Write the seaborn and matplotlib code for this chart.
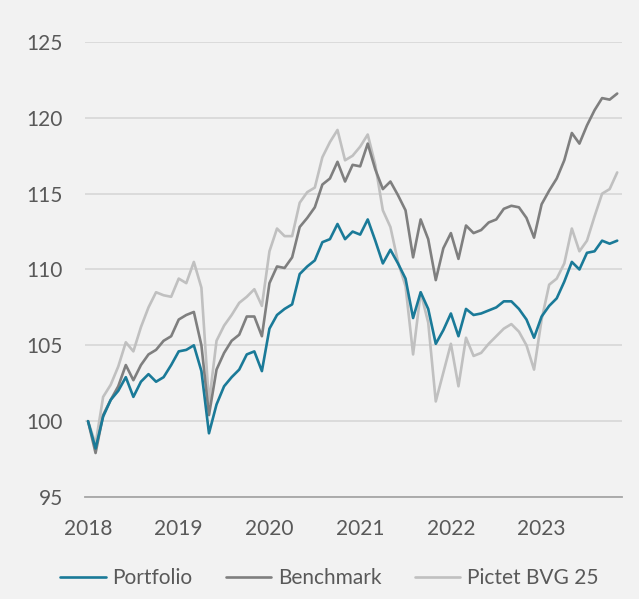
import numpy as np
import pandas as pd
import matplotlib
matplotlib.use("Agg")
import matplotlib.pyplot as plt
import seaborn as sns

# monthly index values, Jan 2018 .. Nov 2023
portfolio = [100.0, 98.2, 100.3, 101.4, 102.0, 102.9, 101.6, 102.6, 103.1, 102.6, 102.9, 103.7,
             104.6, 104.7, 105.0, 103.3, 99.2, 101.1, 102.3, 102.9, 103.4, 104.4, 104.6, 103.3,
             106.1, 107.0, 107.4, 107.7, 109.7, 110.2, 110.6, 111.8, 112.0, 113.0, 112.0, 112.5,
             112.3, 113.3, 111.9, 110.4, 111.3, 110.4, 109.4, 106.8, 108.5, 107.4, 105.1, 106.0,
             107.1, 105.6, 107.4, 107.0, 107.1, 107.3, 107.5, 107.9, 107.9, 107.4, 106.7, 105.5,
             106.9, 107.6, 108.1, 109.2, 110.5, 110.0, 111.1, 111.2, 111.9, 111.7, 111.9]
benchmark = [100.0, 97.9, 100.4, 101.4, 102.3, 103.7, 102.7, 103.7, 104.4, 104.7, 105.3, 105.6,
             106.7, 107.0, 107.2, 105.0, 100.4, 103.4, 104.5, 105.3, 105.7, 106.9, 106.9, 105.6,
             109.1, 110.2, 110.1, 110.8, 112.8, 113.4, 114.1, 115.6, 116.0, 117.1, 115.8, 116.9,
             116.8, 118.3, 116.6, 115.3, 115.8, 114.9, 113.9, 110.8, 113.3, 112.0, 109.3, 111.4,
             112.4, 110.7, 112.9, 112.4, 112.6, 113.1, 113.3, 114.0, 114.2, 114.1, 113.4, 112.1,
             114.3, 115.2, 116.0, 117.2, 119.0, 118.3, 119.5, 120.5, 121.3, 121.2, 121.6]
pictet = [100.0, 98.5, 101.6, 102.4, 103.6, 105.2, 104.6, 106.2, 107.5, 108.5, 108.3, 108.2,
          109.4, 109.1, 110.5, 108.8, 101.2, 105.3, 106.3, 107.0, 107.8, 108.2, 108.7, 107.6,
          111.2, 112.7, 112.2, 112.2, 114.4, 115.1, 115.4, 117.4, 118.4, 119.2, 117.2, 117.5,
          118.1, 118.9, 116.9, 113.9, 112.8, 110.5, 108.9, 104.4, 108.5, 106.5, 101.3, 103.2,
          105.1, 102.3, 105.5, 104.3, 104.5, 105.1, 105.6, 106.1, 106.4, 105.9, 105.0, 103.4,
          106.7, 109.0, 109.4, 110.4, 112.7, 111.2, 111.9, 113.5, 115.0, 115.3, 116.4]
series_names = ["Portfolio", "Benchmark", "Pictet BVG 25"]
year_labels = ["2018", "2019", "2020", "2021", "2022", "2023"]
y_ticks = [95, 100, 105, 110, 115, 120, 125]

colors = {"Portfolio": "#1a7a98", "Benchmark": "#7f7f7f", "Pictet BVG 25": "#c0c0c0"}

months = np.arange(len(portfolio))
df = pd.DataFrame({
    "month": np.tile(months, 3),
    "value": portfolio + benchmark + pictet,
    "series": np.repeat(series_names, len(portfolio)),
})

sns.set_style("white")
plt.rcParams['font.family'] = ['Lato', 'DejaVu Sans']

bg = "#f2f2f2"
txt = "#595959"
fig = plt.figure(figsize=(6.39, 5.99), dpi=100, facecolor=bg)
ax = fig.add_axes([0.133, 0.1703, 0.840, 0.7596])
ax.set_facecolor(bg)

# draw light series first so the portfolio sits on top
for name in ["Pictet BVG 25", "Benchmark", "Portfolio"]:
    sns.lineplot(data=df[df.series == name], x="month", y="value", color=colors[name],
                 linewidth=1.9, ax=ax, label=name, legend=False)

ax.set_ylim(95, 125)
ax.set_xlim(-0.4, 70.6)
ax.set_yticks(y_ticks)
ax.set_xticks([12 * i for i in range(len(year_labels))])
ax.set_xticklabels(year_labels)
ax.set_xlabel("")
ax.set_ylabel("")

ax.grid(axis="y", color="#d9d9d9", linewidth=1.3)
ax.grid(axis="x", visible=False)
ax.set_axisbelow(True)
for s in ["top", "right", "left"]:
    ax.spines[s].set_visible(False)
ax.spines["bottom"].set_color("#a6a6a6")
ax.spines["bottom"].set_linewidth(1.3)
ax.tick_params(axis="both", length=0, labelsize=15, colors=txt)
ax.tick_params(axis="y", pad=16)
ax.tick_params(axis="x", pad=16)

handles, labels = ax.get_legend_handles_labels()
order = [labels.index(n) for n in series_names]
fig.legend([handles[i] for i in order], [labels[i] for i in order],
           loc="center", bbox_to_anchor=(0.515, 0.035), ncol=3, frameon=False,
           fontsize=15, labelcolor=txt, handlelength=2.2, handletextpad=0.3,
           columnspacing=1.6)

fig.savefig("out.png", dpi=100, facecolor=bg)
